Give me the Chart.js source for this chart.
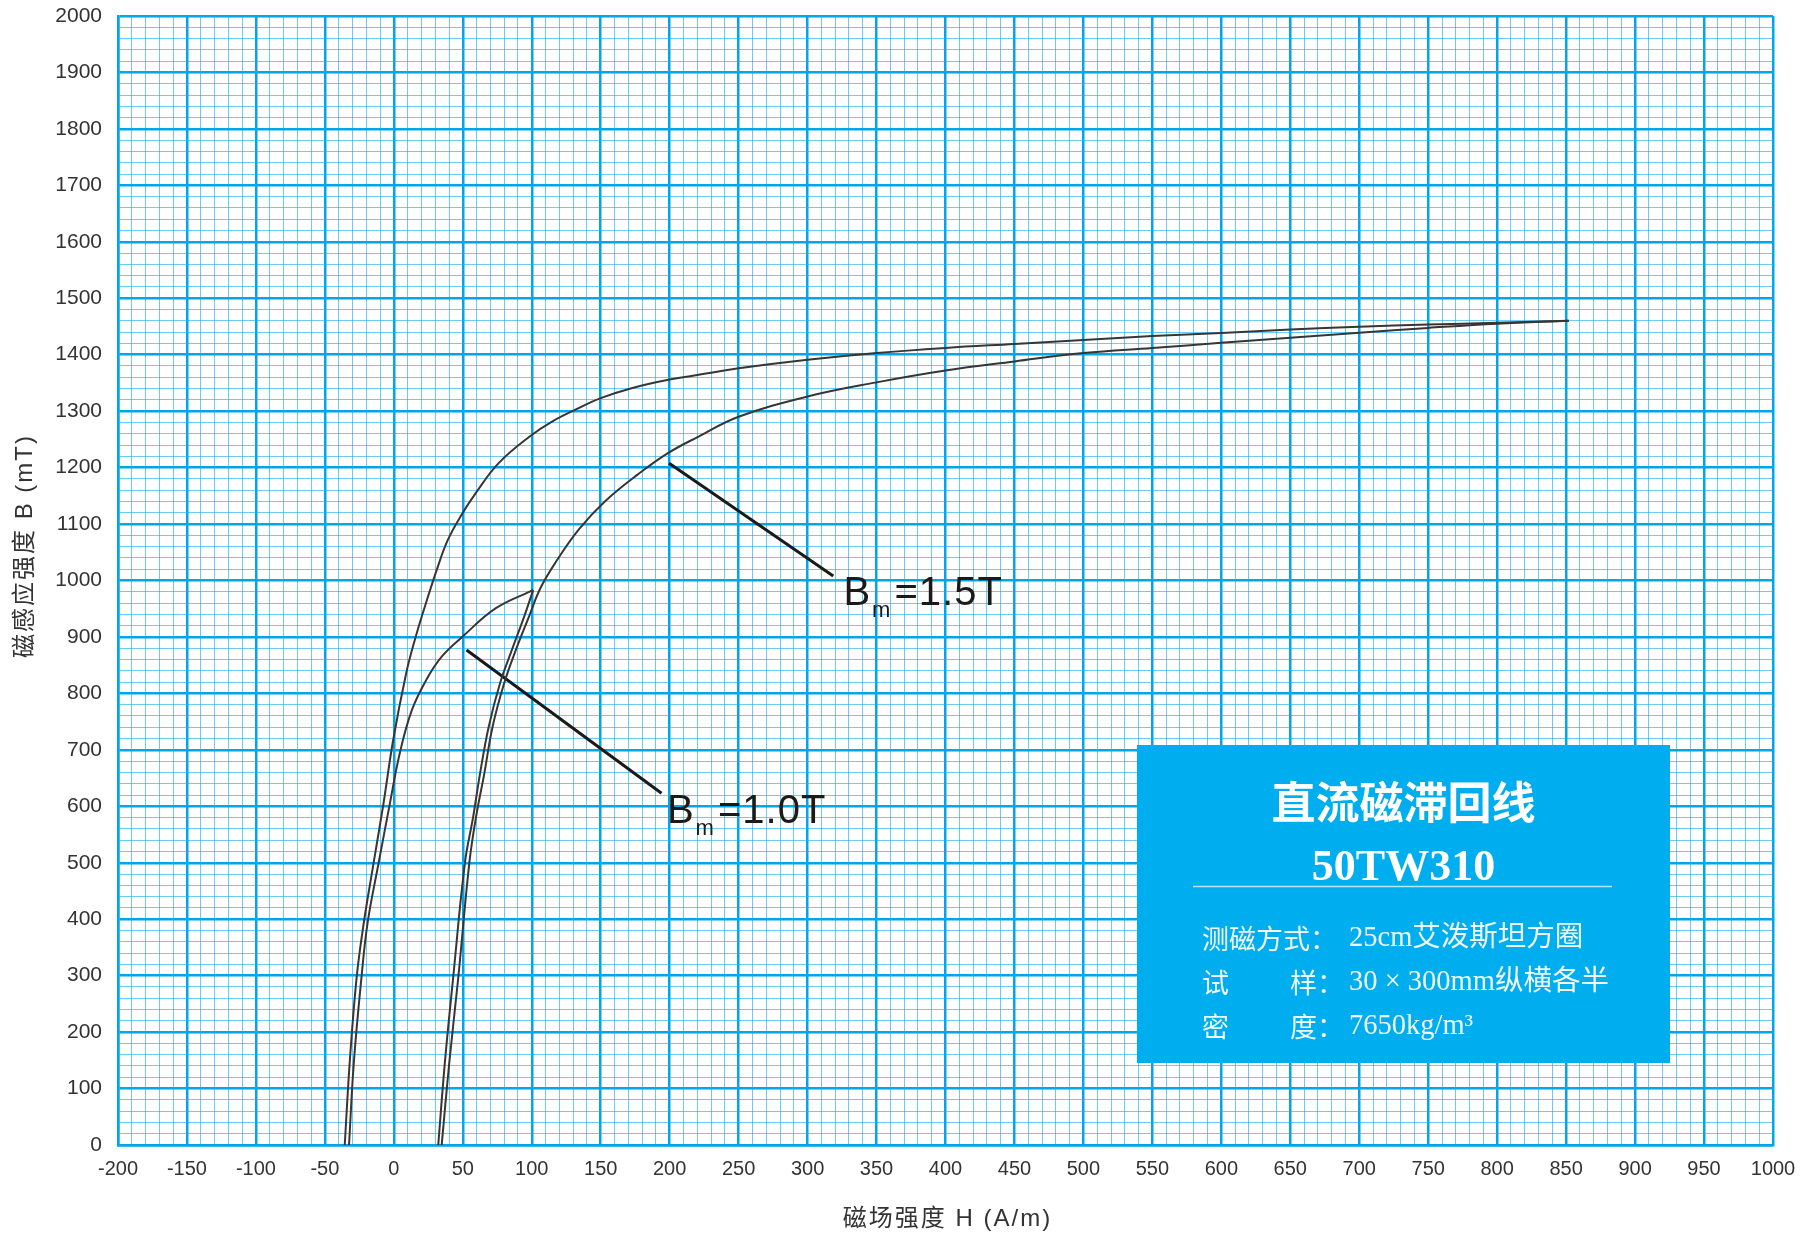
<!DOCTYPE html>
<html>
<head>
<meta charset="utf-8">
<script src="https://cdn.jsdelivr.net/npm/chart.js@4.4.1/dist/chart.umd.min.js"></script>
<style>
  html, body { margin: 0; padding: 0; background: #fff; }
</style>
</head>
<body>
<canvas id="chart" width="1812" height="1236"></canvas>
<script>
// --- Data: H in A/m, B in mT ---
// Bm = 1.5T loop, descending branch (tip -> B=0)
const h15Down = [852, 800, 750, 700, 650, 600, 550, 500, 450, 400, 350, 300, 250, 230, 200, 173, 150, 132, 115, 99, 76, 60, 49, 39, 31, 22, 15, 9, -0.5, -7.5, -15, -22, -27, -32, -35.6];
const b15Down = [1460, 1456.5, 1453.5, 1449.5, 1444.5, 1438.5, 1433, 1426, 1419, 1412, 1403, 1391, 1376, 1368, 1356, 1341, 1323, 1303, 1282, 1256, 1208, 1157, 1116, 1071, 1018, 950, 893, 836, 717, 605, 495, 390, 296, 146, 0];
// Bm = 1.5T loop, ascending branch (B=0 -> tip)
const h15Up = [34.7, 40.2, 46.7, 54.8, 59.6, 65.6, 71.6, 80, 88.5, 98, 106, 117, 134, 153, 177, 199, 221, 250, 300, 350, 400, 450, 500, 550, 600, 650, 700, 750, 800, 852];
const b15Up = [0, 146, 296, 501, 581, 658, 741, 818, 877, 936, 985, 1031, 1090, 1140, 1188, 1226, 1255, 1290, 1326, 1351, 1372, 1388, 1403, 1412, 1421, 1430, 1439, 1447.5, 1455, 1460];
// Bm = 1.0T loop, descending branch
const h10Down = [101, 74, 50, 35, 24, 13, 4.3, -3.4, -11, -19, -23.5, -29, -32.5];
const b10Down = [983, 951, 901, 866, 826, 770, 694, 598, 500, 394, 296, 146, 0];
// Bm = 1.0T loop, ascending branch
const h10Up = [32.2, 37, 43, 51.6, 57.5, 62.5, 68.8, 77, 85.6, 94.5, 101];
const b10Up = [0, 146, 296, 501, 581, 658, 741, 818, 877, 936, 983];

// leader lines for the two labels: [start, end] in H / B
const lead15H = [199.6, 318.6], lead15B = [1207.6, 1008];
const lead10H = [52.7, 194.1],  lead10B = [877, 623];
const labels = ['=1.5T', '=1.0T'];
const labelH = [326, 198];
const labelB = [957, 570];

const xTickStep = 10, xLabelStep = 50;
const yTickStep = 20, yLabelStep = 100;

const infoTitle = '直流磁滞回线';
const infoModel = '50TW310';
const infoRows = [
  ['测磁方式：', null, '25cm艾泼斯坦方圈'],
  ['试', '样：', '30 × 300mm纵横各半'],
  ['密', '度：', '7650kg/m³']
];

const MAJOR = '#00a5ea';
const MINOR = 'rgba(20,172,236,0.62)';
const CURVE = '#363636';
const BOX = '#00aeef';

function pts(hs, bs) { return hs.map((h, i) => ({ x: h, y: bs[i] })); }

function curve(hs, bs) {
  return { data: pts(hs, bs), showLine: true, borderColor: CURVE, borderWidth: 2,
           pointRadius: 0, tension: 0.4, fill: false };
}
function leader(hs, bs) {
  return { data: pts(hs, bs), showLine: true, borderColor: '#1a1a1a', borderWidth: 3,
           pointRadius: 0, tension: 0 };
}

// info box, titles and B_m labels
const decor = {
  id: 'decor',
  afterDatasetsDraw(chart) {
    const c = chart.ctx, xs = chart.scales.x, ys = chart.scales.y;
    c.save();

    // B_m labels
    c.fillStyle = '#1a1a1a';
    c.textBaseline = 'alphabetic';
    labels.forEach((t, i) => {
      const x = xs.getPixelForValue(labelH[i]), y = ys.getPixelForValue(labelB[i]);
      c.letterSpacing = '1px';
      c.font = '40px "Liberation Sans"';
      c.fillText('B', x, y);
      const bw = c.measureText('B').width;
      c.font = '22px "Liberation Sans"';
      c.fillText('m', x + bw + 1, y + 12);
      const mw = c.measureText('m').width;
      c.font = '40px "Liberation Sans"';
      c.fillText(t, x + bw + mw + 4, y);
      c.letterSpacing = '0px';
    });

    // info box
    const L = 1137, T = 745, W = 533, H = 318;
    c.fillStyle = BOX;
    c.fillRect(L, T, W, H);
    c.fillStyle = '#ffffff';
    c.textAlign = 'center';
    c.textBaseline = 'middle';
    c.font = '700 44px "Noto Sans CJK SC"';
    c.fillText(infoTitle, L + W / 2, T + 57);
    c.font = '700 44px "Liberation Serif"';
    c.fillText(infoModel, L + W / 2, T + 124);
    c.strokeStyle = 'rgba(255,255,255,0.7)';
    c.lineWidth = 1.5;
    c.beginPath();
    c.moveTo(L + 56, T + 141.5);
    c.lineTo(L + 475, T + 141.5);
    c.stroke();

    c.textAlign = 'left';
    c.fillStyle = '#eef8fd';
    infoRows.forEach((r, i) => {
      const y = T + 194 + i * 44;
      c.font = '27px "Noto Sans CJK SC"';
      c.fillText(r[0], L + 65, y);
      if (r[1]) c.fillText(r[1], L + 153, y);
      c.font = '28.5px "Liberation Serif", "Noto Sans CJK SC"';
      c.fillText(r[2], L + 212, y);
    });

    // axis titles
    c.fillStyle = '#333';
    c.font = '24px "Liberation Sans", "Noto Sans CJK SC"';
    c.letterSpacing = '2px';
    c.textAlign = 'center';
    c.fillText('磁场强度 H (A/m)', (chart.chartArea.left + chart.chartArea.right) / 2 + 2, 1219);
    c.translate(25, 546);
    c.rotate(-Math.PI / 2);
    c.fillText('磁感应强度 B (mT)', 0, 0);
    c.restore();
  }
};

new Chart(document.getElementById('chart'), {
  type: 'scatter',
  data: {
    datasets: [
      curve(h15Down, b15Down), curve(h15Up, b15Up),
      curve(h10Down, b10Down), curve(h10Up, b10Up),
      leader(lead15H, lead15B), leader(lead10H, lead10B)
    ]
  },
  options: {
    responsive: false,
    animation: false,
    devicePixelRatio: 1,
    layout: { padding: { left: 0, right: 39, top: 16, bottom: 0 } },
    plugins: { legend: { display: false }, tooltip: { enabled: false } },
    scales: {
      x: {
        type: 'linear', min: -200, max: 1000,
        afterFit: (s) => { s.height = 91; },
        ticks: {
          stepSize: xTickStep, autoSkip: false, maxRotation: 0, padding: 12,
          color: '#333', font: { family: 'Liberation Sans', size: 20 },
          callback: (v) => (v % xLabelStep === 0 ? v : '')
        },
        grid: {
          drawTicks: false,
          color: (c) => (c.tick && c.tick.value % xLabelStep === 0 ? MAJOR : MINOR),
          lineWidth: (c) => (c.tick && c.tick.value % xLabelStep === 0 ? 2.5 : 1)
        },
        border: { color: MAJOR, width: 2.5 }
      },
      y: {
        type: 'linear', min: 0, max: 2000,
        afterFit: (s) => { s.width = 118; s.paddingTop = 0; s.paddingBottom = 0; },
        ticks: {
          stepSize: yTickStep, autoSkip: false, padding: 16,
          color: '#333', font: { family: 'Liberation Sans', size: 21 },
          callback: (v) => (v % yLabelStep === 0 ? v : '')
        },
        grid: {
          drawTicks: false,
          color: (c) => (c.tick && c.tick.value % yLabelStep === 0 ? MAJOR : MINOR),
          lineWidth: (c) => (c.tick && c.tick.value % yLabelStep === 0 ? 2.5 : 1)
        },
        border: { color: MAJOR, width: 2.5 }
      }
    }
  },
  plugins: [decor]
});
</script>
</body>
</html>
